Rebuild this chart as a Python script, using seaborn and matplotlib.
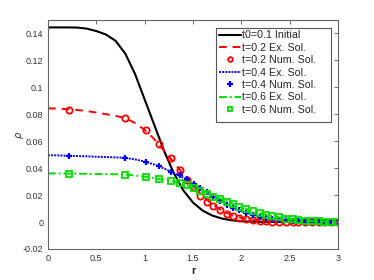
import seaborn as sns
import matplotlib.pyplot as plt
from matplotlib.patches import Rectangle

# exact solution / initial profile on a coarse r grid
r_ex = [0.0, 0.1, 0.2, 0.3, 0.4, 0.5, 0.6, 0.7, 0.8, 0.9, 1.0, 1.1, 1.2, 1.3, 1.4, 1.5,
        1.6, 1.7, 1.8, 1.9, 2.0, 2.1, 2.2, 2.3, 2.4, 2.5, 2.6, 2.7, 2.8, 2.9, 3.0]
rho_init = [0.1445, 0.1445, 0.1445, 0.1444, 0.1436, 0.1418, 0.1392, 0.1345, 0.1250, 0.1100,
            0.0910, 0.0720, 0.0530, 0.0365, 0.0235, 0.0145, 0.0085, 0.0048, 0.0026, 0.0013,
            0.0006, 0.0003, 0.0002, 0.0001, 0.0, 0.0, 0.0, 0.0, 0.0, 0.0, 0.0]
rho_ex_02 = [0.0844, 0.0843, 0.0838, 0.0832, 0.0824, 0.0813, 0.0801, 0.0788, 0.0772, 0.0735,
             0.0685, 0.0615, 0.0530, 0.0445, 0.0355, 0.0270, 0.0195, 0.0130, 0.0085, 0.0050,
             0.0030, 0.0018, 0.0011, 0.0006, 0.0003, 0.0002, 0.0001, 0.0, 0.0, 0.0, 0.0]
rho_ex_04 = [0.0496, 0.0495, 0.0492, 0.0490, 0.0488, 0.0485, 0.0483, 0.0480, 0.0477, 0.0465,
             0.0449, 0.0427, 0.0398, 0.0365, 0.0330, 0.0285, 0.0238, 0.0192, 0.0150, 0.0112,
             0.0080, 0.0058, 0.0042, 0.0030, 0.0020, 0.0013, 0.0008, 0.0005, 0.0003, 0.0001, 0.0]
rho_ex_06 = [0.0361, 0.0361, 0.0360, 0.0359, 0.0358, 0.0357, 0.0356, 0.0355, 0.0353, 0.0346,
             0.0337, 0.0326, 0.0314, 0.0301, 0.0283, 0.0257, 0.0228, 0.0198, 0.0169, 0.0140,
             0.0110, 0.0086, 0.0065, 0.0048, 0.0034, 0.0023, 0.0015, 0.0009, 0.0005, 0.0002, 0.0]

# numerical solution on the (non uniform) mesh
r_num = [0.22, 0.80, 1.01, 1.15, 1.27, 1.37, 1.44, 1.51, 1.57, 1.64, 1.71, 1.78, 1.85, 1.91,
         1.98, 2.05, 2.12, 2.19, 2.25, 2.32, 2.39, 2.46, 2.53, 2.59, 2.66, 2.73, 2.80, 2.86,
         2.93, 3.00]
rho_num_02 = [0.0832, 0.0773, 0.0680, 0.0578, 0.0472, 0.0388, 0.0312, 0.0262, 0.0195, 0.0150,
              0.0118, 0.0089, 0.0062, 0.0045, 0.0032, 0.0022, 0.0015, 0.0010, 0.0007, 0.0004,
              0.0003, 0.0002, 0.0001, 0.0, 0.0, 0.0, 0.0, 0.0, 0.0, 0.0]
rho_num_04 = [0.0491, 0.0478, 0.0447, 0.0414, 0.0375, 0.0346, 0.0316, 0.0283, 0.0252, 0.0220,
              0.0186, 0.0157, 0.0130, 0.0108, 0.0086, 0.0066, 0.0052, 0.0040, 0.0031, 0.0023,
              0.0017, 0.0012, 0.0009, 0.0006, 0.0004, 0.0003, 0.0002, 0.0001, 0.0, 0.0]
rho_num_06 = [0.0360, 0.0353, 0.0336, 0.0319, 0.0306, 0.0290, 0.0274, 0.0252, 0.0230, 0.0209,
              0.0188, 0.0168, 0.0148, 0.0131, 0.0113, 0.0096, 0.0080, 0.0066, 0.0055, 0.0044,
              0.0034, 0.0026, 0.0020, 0.0015, 0.0011, 0.0008, 0.0005, 0.0003, 0.0002, 0.0001]

sns.set_style('white')
plt.rcParams['font.family'] = ['Liberation Sans', 'DejaVu Sans']
plt.rcParams['font.size'] = 6.5

fig, ax = plt.subplots(figsize=(3.74, 2.8), dpi=100)
fig.subplots_adjust(left=48/374, right=338/374, top=1-20/280, bottom=1-249/280)

sns.lineplot(x=r_ex, y=rho_init, ax=ax, color='black', lw=1.5, label='t0=0.1 Initial')

series = [
    ('0.2', rho_ex_02, rho_num_02, 'red', (0, (4, 3)), 'o'),
    ('0.4', rho_ex_04, rho_num_04, 'blue', (0, (1, 0.6)), '+'),
    ('0.6', rho_ex_06, rho_num_06, '#00e000', (0, (4, 1.5, 1, 1.5)), 's'),
]
for t, ex, num, col, ls, mk in series:
    sns.lineplot(x=r_ex, y=ex, ax=ax, color=col, lw=1.4, linestyle=ls,
                 label=f't={t} Ex. Sol.')
    if mk == '+':
        sns.lineplot(x=r_num, y=num, ax=ax, color=col, linestyle='', marker='+',
                     markersize=5, markeredgewidth=1.6, markeredgecolor=col,
                     label=f't={t} Num. Sol.')
    else:
        sns.lineplot(x=r_num, y=num, ax=ax, color=col, linestyle='', marker=mk,
                     markersize=4.5 if mk == 'o' else 4, markeredgewidth=1.3,
                     markeredgecolor=col, markerfacecolor='none',
                     label=f't={t} Num. Sol.')

ax.set_xlim(0, 3)
ax.set_ylim(-0.02, 0.15)
ax.set_xticks([0, 0.5, 1, 1.5, 2, 2.5, 3])
ax.set_xticklabels(['0', '0.5', '1', '1.5', '2', '2.5', '3'])
ax.set_yticks([-0.02, 0, 0.02, 0.04, 0.06, 0.08, 0.1, 0.12, 0.14])
ax.set_yticklabels(['-0.02', '0', '0.02', '0.04', '0.06', '0.08', '0.1', '0.12', '0.14'])
ax.tick_params(direction='in', length=3, width=0.6, top=True, right=True,
               colors='#555555', labelcolor='#333333', labelsize=6.5, pad=3.5)
for sp in ax.spines.values():
    sp.set_color('#666666')
    sp.set_linewidth(0.8)

ax.set_xlabel('r', fontsize=8, fontweight='bold', labelpad=2)
ax.set_ylabel(r'$\rho$', fontsize=7)
ax.yaxis.set_label_coords(-0.075, 0.5)

# legend box drawn by hand, it is wider than the entries (MATLAB style)
ax.add_patch(Rectangle((216/374, 1-122/280), 114.7/374, 94/280, transform=fig.transFigure,
                       facecolor='white', edgecolor='#555555', lw=0.8, clip_on=False,
                       zorder=4.5))
handles, labels = ax.get_legend_handles_labels()
leg = ax.legend(handles, labels, loc='upper left', bbox_to_anchor=(219.3/374, 1-30.5/280),
                bbox_transform=fig.transFigure, borderaxespad=0, frameon=False,
                fontsize=7.7, handlelength=2.06, handletextpad=0.05, labelspacing=0.22,
                borderpad=0, markerscale=0.75)
leg.set_zorder(5)

fig.savefig('out.png', dpi=100)
